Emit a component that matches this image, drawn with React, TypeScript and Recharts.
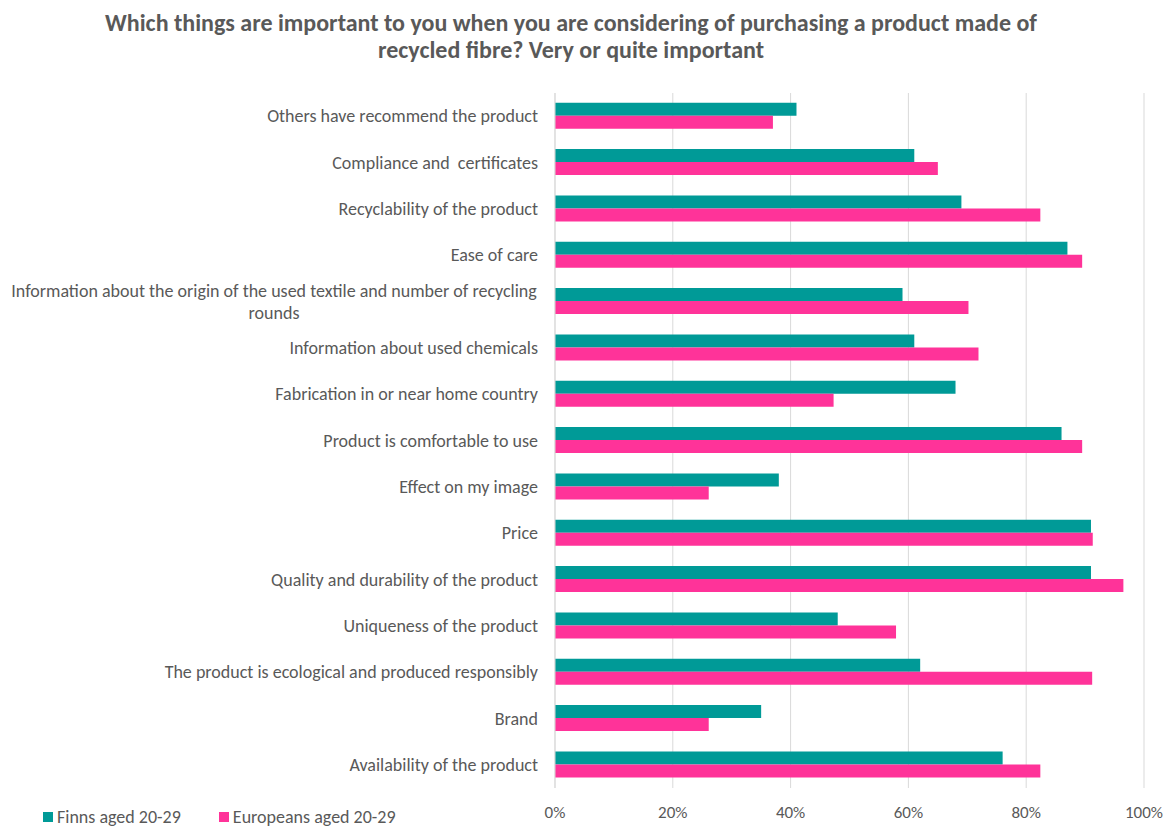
import { BarChart, Bar, XAxis, YAxis, CartesianGrid } from "recharts";

const categories = [
  "Others have recommend the product",
  "Compliance and  certificates",
  "Recyclability of the product",
  "Ease of care",
  "Information about the origin of the used textile and number of recycling rounds",
  "Information about used chemicals",
  "Fabrication in or near home country",
  "Product is comfortable to use",
  "Effect on my image",
  "Price",
  "Quality and durability of the product",
  "Uniqueness of the product",
  "The product is ecological and produced responsibly",
  "Brand",
  "Availability of the product",
];

const finns = [41, 61, 69, 87, 59, 61, 68, 86, 38, 91, 91, 48, 62, 35, 76];
const europeans = [37, 65, 82.4, 89.5, 70.2, 71.9, 47.3, 89.5, 26.1, 91.3, 96.5, 57.9, 91.2, 26.1, 82.4];

const xTicks = [0, 20, 40, 60, 80, 100];

const data = categories.map((name, i) => ({
  name,
  finns: finns[i],
  europeans: europeans[i],
}));

const FONT = "Carlito, Calibri, Lato, sans-serif";
const GREY = "#595959";
const TEAL = "#009A97";
const PINK = "#FF3399";

function CategoryTick(props: any) {
  const { x, y, payload } = props;
  const label: string = payload.value;
  if (label.length <= 60) {
    return (
      <text
        x={x - 9}
        y={y}
        dy={6}
        textAnchor="end"
        fill={GREY}
        fontSize={18}
        fontFamily={FONT}
        style={{ whiteSpace: "pre" }}
      >
        {label}
      </text>
    );
  }
  const words = label.split(" ");
  const lines: string[] = [];
  let cur = "";
  for (const w of words) {
    const next = cur ? cur + " " + w : w;
    if (next.length > 72 && cur) {
      lines.push(cur);
      cur = w;
    } else cur = next;
  }
  if (cur) lines.push(cur);
  const cx = (10 + x - 9) / 2;
  return (
    <text x={cx} y={y} textAnchor="middle" fill={GREY} fontSize={18} fontFamily={FONT}>
      {lines.map((l, i) => (
        <tspan key={i} x={cx} dy={i === 0 ? 6 - ((lines.length - 1) * 22) / 2 : 22}>
          {l}
        </tspan>
      ))}
    </text>
  );
}

const legendItems = [
  { label: "Finns aged 20-29", color: TEAL },
  { label: "Europeans aged 20-29", color: PINK },
];

export default function App() {
  return (
    <div style={{ position: "absolute", left: 0, top: 0, width: 1171, height: 827, background: "#fff", overflow: "hidden" }}>
      <BarChart
        width={1171}
        height={827}
        data={data}
        layout="vertical"
        margin={{ top: 93, right: 27, bottom: 9, left: 0 }}
        barGap={0}
        barCategoryGap="21%"
        style={{ position: "absolute", left: 0, top: 0 }}
      >
        <CartesianGrid horizontal={false} stroke="#d9d9d9" />
        <XAxis
          type="number"
          domain={[0, 100]}
          ticks={xTicks}
          tickFormatter={(v) => `${v}%`}
          axisLine={false}
          tickLine={false}
          height={30}
          tick={{ fill: GREY, fontSize: 17, fontFamily: FONT }}
          tickMargin={12}
        />
        <YAxis
          type="category"
          dataKey="name"
          width={555}
          axisLine={{ stroke: "#d9d9d9" }}
          tickLine={false}
          tick={<CategoryTick />}
          interval={0}
        />
        <Bar dataKey="finns" name="Finns aged 20-29" fill={TEAL} isAnimationActive={false} />
        <Bar dataKey="europeans" name="Europeans aged 20-29" fill={PINK} isAnimationActive={false} />
      </BarChart>
      <div
        style={{
          position: "absolute",
          left: 0,
          top: 9,
          width: 1142,
          textAlign: "center",
          fontFamily: FONT,
          fontWeight: "bold",
          fontSize: 24,
          lineHeight: "27px",
          color: GREY,
        }}
      >
        Which things are important to you when you are considering of purchasing a product made of
        <br />
        recycled fibre? Very or quite important
      </div>
      <div
        style={{
          position: "absolute",
          left: 43,
          top: 807,
          display: "flex",
          gap: 38,
          fontFamily: FONT,
          fontSize: 18,
          lineHeight: "20px",
          color: GREY,
        }}
      >
        {legendItems.map((it) => (
          <div key={it.label} style={{ display: "flex", alignItems: "center" }}>
            <span style={{ width: 10, height: 10, background: it.color, marginRight: 4, display: "inline-block" }} />
            {it.label}
          </div>
        ))}
      </div>
    </div>
  );
}
